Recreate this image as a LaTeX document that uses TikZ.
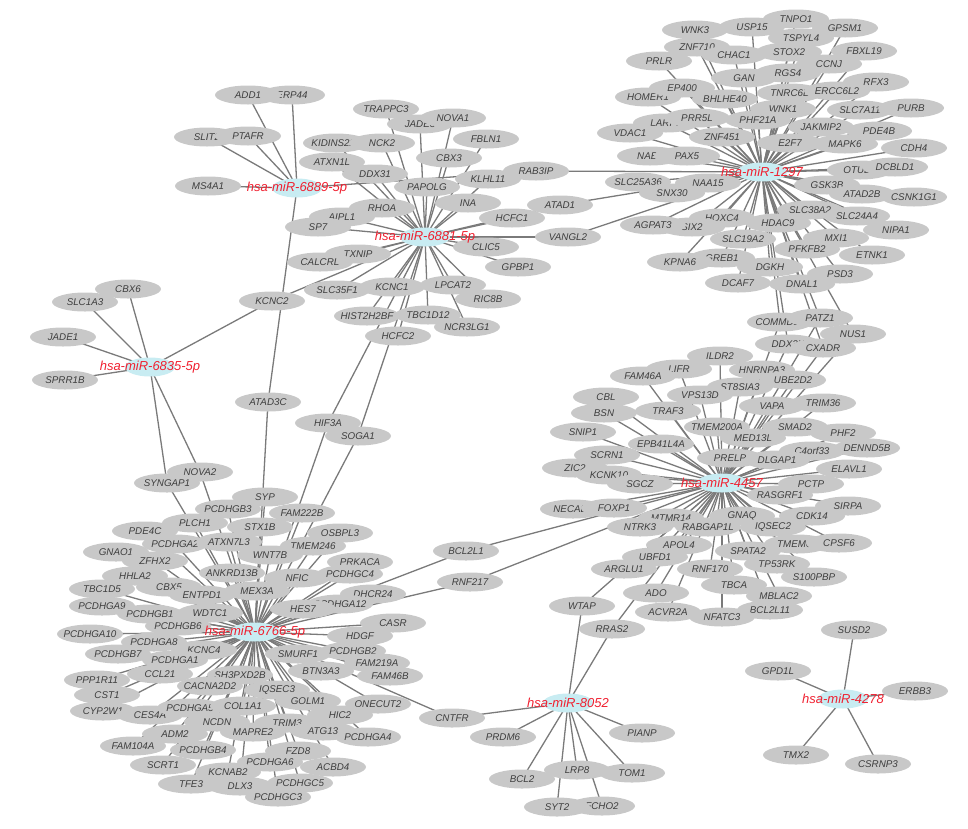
\documentclass[tikz,border=0pt]{standalone}
\usepackage{fontspec}
\newfontfamily\netfont{Liberation Sans}
\usetikzlibrary{shapes.geometric,backgrounds}
\definecolor{genefill}{RGB}{200,200,200}
\definecolor{genetext}{RGB}{62,62,62}
\definecolor{hubfill}{RGB}{200,236,242}
\definecolor{hubtext}{RGB}{240,32,48}
\definecolor{edgecol}{RGB}{122,122,122}
\tikzset{
  gene/.style={ellipse, fill=genefill, minimum width=66pt, minimum height=19pt, inner sep=0pt,
    text=genetext, font=\netfont\itshape\fontsize{9.8}{10}\selectfont,
    execute at begin node={\hbox to 0pt\bgroup\hss}, execute at end node={\hss\egroup}},
  hub/.style={ellipse, fill=hubfill, minimum width=50pt, minimum height=19pt, inner sep=0pt,
    text=hubtext, font=\netfont\itshape\fontsize{13}{14}\selectfont,
    execute at begin node={\hbox to 0pt\bgroup\hss}, execute at end node={\hss\egroup}},
  link/.style={draw=edgecol, line width=1.3pt}
}
\newcommand\genenode[2]{\node[gene] (#1) at (#2) {#1};}
\begin{document}
\begin{tikzpicture}[x=1pt,y=-1pt]
\useasboundingbox (0,0) rectangle (968,828);
% ---- 6889 cluster
\genenode{ERP44}{292,95}
\genenode{ADD1}{248,95}
\genenode{SLIT2}{207,137}
\genenode{PTAFR}{248,136}
\genenode{MS4A1}{208,186}
\genenode{KCNC2}{272,301}
\genenode{ATAD3C}{268,402}
% ---- 6881 cluster
\genenode{TRAPPC3}{386,109}
\genenode{JADE3}{420,124}
\genenode{NOVA1}{453,118}
\genenode{KIDINS220}{336,143}
\genenode{NCK2}{382,143}
\genenode{FBLN1}{486,139}
\genenode{CBX3}{449,158}
\genenode{ATXN1L}{332,162}
\genenode{DDX31}{375,174}
\genenode{KLHL11}{488,179}
\genenode{RAB3IP}{536,171}
\genenode{PAPOLG}{427,187}
\genenode{INA}{468,203}
\genenode{RHOA}{382,208}
\genenode{ATAD1}{560,205}
\genenode{AIPL1}{342,217}
\genenode{HCFC1}{512,218}
\genenode{SP7}{318,227}
\genenode{VANGL2}{568,237}
\genenode{CLIC5}{486,247}
\genenode{TXNIP}{358,254}
\genenode{CALCRL}{320,262}
\genenode{GPBP1}{518,267}
\genenode{SLC35F1}{337,290}
\genenode{KCNC1}{392,287}
\genenode{LPCAT2}{453,285}
\genenode{RIC8B}{488,299}
\genenode{HIST2H2BF}{367,316}
\genenode{TBC1D12}{428,315}
\genenode{NCR3LG1}{467,327}
\genenode{HCFC2}{398,336}
\genenode{HIF3A}{328,423}
\genenode{SOGA1}{358,436}
% ---- 1297 cluster
\genenode{TNPO1}{796,19}
\genenode{WNK3}{695,30}
\genenode{USP15}{752,27}
\genenode{GPSM1}{845,28}
\genenode{TSPYL4}{801,38}
\genenode{ZNF710}{697,47}
\genenode{CHAC1}{734,55}
\genenode{STOX2}{789,52}
\genenode{FBXL19}{864,51}
\genenode{PRLR}{659,61}
\genenode{CCNJ}{829,64}
\genenode{GAN}{744,78}
\genenode{RGS4}{788,73}
\genenode{RFX3}{876,82}
\genenode{HOMER1}{648,97}
\genenode{EP400}{682,88}
\genenode{BHLHE40}{725,99}
\genenode{TNRC6B}{790,93}
\genenode{ERCC6L2}{837,91}
\genenode{WNK1}{783,109}
\genenode{SLC7A11}{860,110}
\genenode{PURB}{911,108}
\genenode{LARP1}{666,123}
\genenode{PRR5L}{697,118}
\genenode{PHF21A}{758,120}
\genenode{JAKMIP2}{821,127}
\genenode{PDE4B}{879,131}
\genenode{VDAC1}{630,133}
\genenode{ZNF451}{722,137}
\genenode{E2F7}{790,143}
\genenode{MAPK6}{845,144}
\genenode{CDH4}{914,148}
\genenode{NAB2}{650,156}
\genenode{PAX5}{687,156}
\genenode{OTUD1}{860,170}
\genenode{DCBLD1}{895,167}
\genenode{SLC25A36}{638,182}
\genenode{NAA15}{708,183}
\genenode{GSK3B}{827,185}
\genenode{SNX30}{672,193}
\genenode{ATAD2B}{862,194}
\genenode{CSNK1G1}{914,197}
\genenode{SLC38A2}{810,210}
\genenode{SLC24A4}{857,216}
\genenode{HOXC4}{722,218}
\genenode{SIX2}{692,227}
\genenode{AGPAT3}{653,225}
\genenode{HDAC9}{778,223}
\genenode{NIPA1}{896,230}
\genenode{SLC19A2}{743,239}
\genenode{MXI1}{836,238}
\genenode{PFKFB2}{807,249}
\genenode{ETNK1}{872,255}
\genenode{GREB1}{722,258}
\genenode{KPNA6}{680,262}
\genenode{DGKH}{770,267}
\genenode{PSD3}{840,274}
\genenode{DCAF7}{738,283}
\genenode{DNAL1}{802,284}
\genenode{COMMD10}{780,322}
\genenode{PATZ1}{820,318}
\genenode{NUS1}{853,334}
\genenode{DDX3X}{788,344}
\genenode{CXADR}{823,348}
% ---- 4457 cluster
\genenode{ILDR2}{720,356}
\genenode{LIFR}{679,369}
\genenode{FAM46A}{643,376}
\genenode{HNRNPA3}{762,370}
\genenode{UBE2D2}{793,380}
\genenode{ST8SIA3}{740,387}
\genenode{CBL}{606,397}
\genenode{VPS13D}{700,395}
\genenode{VAPA}{772,406}
\genenode{TRIM36}{823,403}
\genenode{TRAF3}{668,411}
\genenode{BSN}{604,413}
\genenode{TMEM200A}{717,427}
\genenode{SMAD2}{795,427}
\genenode{SNIP1}{583,432}
\genenode{PHF2}{843,433}
\genenode{MED13L}{753,438}
\genenode{EPB41L4A}{661,444}
\genenode{C4orf33}{812,451}
\genenode{DENND5B}{867,448}
\genenode{SCRN1}{607,455}
\genenode{PRELP}{730,458}
\genenode{DLGAP1}{777,460}
\genenode{ELAVL1}{849,469}
\genenode{ZIC2}{575,468}
\genenode{KCNK10}{609,475}
\genenode{SGCZ}{640,484}
\genenode{PCTP}{811,484}
\genenode{RASGRF1}{780,495}
\genenode{NECAB1}{573,509}
\genenode{FOXP1}{614,508}
\genenode{SIRPA}{848,506}
\genenode{CDK14}{812,516}
\genenode{MTMR14}{671,518}
\genenode{GNAQ}{742,516}
\genenode{NTRK3}{640,527}
\genenode{RABGAP1L}{708,527}
\genenode{IQSEC2}{773,527}
\genenode{APOL4}{679,545}
\genenode{TMEM65}{797,544}
\genenode{CPSF6}{839,543}
\genenode{SPATA2}{748,551}
\genenode{UBFD1}{655,557}
\genenode{TP53RK}{777,564}
\genenode{ARGLU1}{624,569}
\genenode{RNF170}{710,569}
\genenode{S100PBP}{814,577}
\genenode{TBCA}{734,585}
\genenode{ADO}{656,593}
\genenode{MBLAC2}{779,596}
\genenode{WTAP}{582,606}
\genenode{ACVR2A}{668,612}
\genenode{BCL2L11}{770,610}
\genenode{NFATC3}{722,617}
\genenode{RRAS2}{612,629}
\genenode{BCL2L1}{466,551}
\genenode{RNF217}{470,582}
% ---- 6835 cluster
\genenode{CBX6}{128,289}
\genenode{SLC1A3}{85,302}
\genenode{JADE1}{63,337}
\genenode{SPRR1B}{65,380}
\genenode{NOVA2}{200,472}
\genenode{SYNGAP1}{167,483}
% ---- 6766 cluster
\genenode{SYP}{265,497}
\genenode{PCDHGB3}{228,509}
\genenode{FAM222B}{302,513}
\genenode{PLCH1}{195,523}
\genenode{STX1B}{260,527}
\genenode{PDE4C}{145,531}
\genenode{OSBPL3}{340,533}
\genenode{PCDHGA2}{175,544}
\genenode{ATXN7L3}{229,542}
\genenode{TMEM246}{313,546}
\genenode{GNAO1}{116,552}
\genenode{WNT7B}{270,555}
\genenode{ZFHX2}{155,561}
\genenode{PRKACA}{360,562}
\genenode{ANKRD13B}{232,573}
\genenode{HHLA2}{135,576}
\genenode{NFIC}{297,578}
\genenode{PCDHGC4}{350,574}
\genenode{TBC1D5}{102,589}
\genenode{CBX5}{169,587}
\genenode{ENTPD1}{202,595}
\genenode{MEX3A}{257,591}
\genenode{DHCR24}{373,594}
\genenode{PCDHGA12}{340,604}
\genenode{PCDHGA9}{102,606}
\genenode{HES7}{303,609}
\genenode{PCDHGB1}{150,614}
\genenode{WDTC1}{210,613}
\genenode{CASR}{393,623}
\genenode{PCDHGB6}{178,626}
\genenode{HDGF}{360,636}
\genenode{PCDHGA10}{90,634}
\genenode{PCDHGA8}{154,642}
\genenode{KCNC4}{204,650}
\genenode{PCDHGB7}{118,654}
\genenode{PCDHGA1}{175,660}
\genenode{SMURF1}{298,654}
\genenode{PCDHGB2}{353,651}
\genenode{FAM219A}{377,663}
\genenode{BTN3A3}{321,671}
\genenode{FAM46B}{390,676}
\genenode{PPP1R11}{97,680}
\genenode{CCL21}{160,674}
\genenode{SH3PXD2B}{240,675}
\genenode{CACNA2D2}{210,686}
\genenode{IQSEC3}{277,690}
\genenode{CST1}{107,695}
\genenode{GOLM1}{308,701}
\genenode{ONECUT2}{378,704}
\genenode{CYP2W1}{103,711}
\genenode{CES4A}{150,715}
\genenode{PCDHGA5}{190,708}
\genenode{COL1A1}{243,706}
\genenode{HIC2}{340,715}
\genenode{NCDN}{217,722}
\genenode{TRIM3}{287,723}
\genenode{ATG13}{323,731}
\genenode{MAPRE2}{253,732}
\genenode{ADM2}{175,734}
\genenode{PCDHGA4}{368,737}
\genenode{FAM104A}{133,746}
\genenode{PCDHGB4}{203,750}
\genenode{FZD8}{298,751}
\genenode{PCDHGA6}{270,762}
\genenode{SCRT1}{163,765}
\genenode{ACBD4}{333,767}
\genenode{KCNAB2}{228,772}
\genenode{TFE3}{191,784}
\genenode{PCDHGC5}{300,783}
\genenode{DLX3}{240,786}
\genenode{PCDHGC3}{278,797}
% ---- 8052 cluster
\genenode{CNTFR}{452,718}
\genenode{PRDM6}{503,737}
\genenode{PIANP}{642,733}
\genenode{BCL2}{522,779}
\genenode{LRP8}{577,770}
\genenode{TOM1}{632,773}
\genenode{FCHO2}{602,806}
\genenode{SYT2}{557,807}
% ---- 4278 cluster
\genenode{SUSD2}{854,630}
\genenode{GPD1L}{778,671}
\genenode{ERBB3}{915,691}
\genenode{TMX2}{796,755}
\genenode{CSRNP3}{878,764}
% ---- hubs
\node[hub] (h6889) at (297,188) {hsa-miR-6889-5p};
\node[hub] (h6881) at (425,237) {hsa-miR-6881-5p};
\node[hub] (h1297) at (762,172) {hsa-miR-1297};
\node[hub] (h6835) at (150,367) {hsa-miR-6835-5p};
\node[hub] (h4457) at (722,483) {hsa-miR-4457};
\node[hub] (h6766) at (255,632) {hsa-miR-6766-5p};
\node[hub] (h8052) at (568,703) {hsa-miR-8052};
\node[hub] (h4278) at (843,699) {hsa-miR-4278};
% ---- connectors
\begin{pgfonlayer}{background}
\foreach \g in {ADD1,ERP44,SLIT2,PTAFR,MS4A1,ATAD3C,RAB3IP}
  \draw[link] (h6889.center) -- (\g.center);
\foreach \g in {TRAPPC3,JADE3,NOVA1,KIDINS220,NCK2,FBLN1,CBX3,ATXN1L,DDX31,KLHL11,PAPOLG,INA,RHOA,AIPL1,HCFC1,ATAD1,VANGL2,SP7,CLIC5,TXNIP,CALCRL,GPBP1,SLC35F1,KCNC1,LPCAT2,RIC8B,HIST2H2BF,TBC1D12,NCR3LG1,HCFC2,KCNC2,HIF3A,SOGA1}
  \draw[link] (h6881.center) -- (\g.center);
\foreach \g in {TNPO1,WNK3,USP15,GPSM1,TSPYL4,ZNF710,CHAC1,STOX2,FBXL19,PRLR,CCNJ,GAN,RGS4,RFX3,EP400,HOMER1,BHLHE40,TNRC6B,ERCC6L2,WNK1,SLC7A11,PURB,LARP1,PRR5L,PHF21A,JAKMIP2,PDE4B,VDAC1,ZNF451,E2F7,MAPK6,CDH4,NAB2,PAX5,OTUD1,DCBLD1,SLC25A36,NAA15,GSK3B,SNX30,ATAD2B,CSNK1G1,HOXC4,AGPAT3,SIX2,HDAC9,SLC38A2,SLC24A4,NIPA1,SLC19A2,MXI1,PFKFB2,ETNK1,KPNA6,GREB1,DGKH,PSD3,DCAF7,DNAL1,COMMD10,PATZ1,NUS1,DDX3X,CXADR,RAB3IP,ATAD1,VANGL2}
  \draw[link] (h1297.center) -- (\g.center);
\foreach \g in {CBX6,SLC1A3,JADE1,SPRR1B,KCNC2,NOVA2,SYNGAP1}
  \draw[link] (h6835.center) -- (\g.center);
\foreach \g in {ILDR2,LIFR,FAM46A,HNRNPA3,UBE2D2,ST8SIA3,CBL,VPS13D,VAPA,TRIM36,TRAF3,BSN,TMEM200A,SMAD2,SNIP1,PHF2,MED13L,EPB41L4A,DENND5B,C4orf33,SCRN1,PRELP,DLGAP1,ELAVL1,ZIC2,KCNK10,SGCZ,PCTP,RASGRF1,NECAB1,FOXP1,SIRPA,CDK14,MTMR14,GNAQ,NTRK3,RABGAP1L,IQSEC2,APOL4,TMEM65,CPSF6,SPATA2,UBFD1,TP53RK,ARGLU1,RNF170,S100PBP,TBCA,ADO,MBLAC2,ACVR2A,BCL2L11,NFATC3,COMMD10,DDX3X,CXADR,PATZ1,NUS1,BCL2L1,RNF217,WTAP,RRAS2}
  \draw[link] (h4457.center) -- (\g.center);
\foreach \g in {PCDHGB3,PLCH1,STX1B,PDE4C,OSBPL3,PCDHGA2,ATXN7L3,TMEM246,GNAO1,WNT7B,ZFHX2,PRKACA,ANKRD13B,HHLA2,NFIC,PCDHGC4,TBC1D5,CBX5,ENTPD1,MEX3A,DHCR24,PCDHGA12,PCDHGA9,HES7,PCDHGB1,WDTC1,CASR,PCDHGB6,HDGF,PCDHGA10,PCDHGA8,KCNC4,PCDHGB7,PCDHGA1,SMURF1,PCDHGB2,FAM219A,BTN3A3,FAM46B,PPP1R11,CCL21,SH3PXD2B,CACNA2D2,IQSEC3,CST1,GOLM1,ONECUT2,CYP2W1,CES4A,PCDHGA5,COL1A1,HIC2,NCDN,TRIM3,ATG13,MAPRE2,ADM2,PCDHGA4,FAM104A,PCDHGB4,FZD8,PCDHGA6,SCRT1,ACBD4,KCNAB2,TFE3,PCDHGC5,DLX3,PCDHGC3,SYP,FAM222B,SYNGAP1,NOVA2,ATAD3C,HIF3A,SOGA1,BCL2L1,RNF217,CNTFR}
  \draw[link] (h6766.center) -- (\g.center);
\foreach \g in {WTAP,RRAS2,CNTFR,PRDM6,PIANP,BCL2,LRP8,TOM1,SYT2,FCHO2}
  \draw[link] (h8052.center) -- (\g.center);
\foreach \g in {SUSD2,GPD1L,ERBB3,TMX2,CSRNP3}
  \draw[link] (h4278.center) -- (\g.center);
\end{pgfonlayer}
\end{tikzpicture}
\end{document}
